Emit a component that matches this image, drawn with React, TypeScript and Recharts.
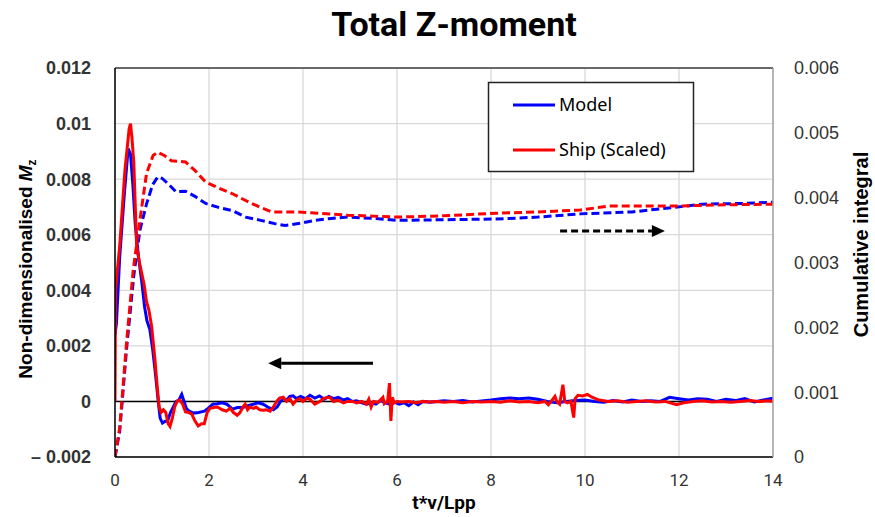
import React from 'react';
import { LineChart, Line, XAxis, YAxis, CartesianGrid, ReferenceLine } from 'recharts';

const W = 875;
const H = 517;

// ---------- data ----------
const xTicks = [0, 2, 4, 6, 8, 10, 12, 14];
const leftTicks = [-0.002, 0, 0.002, 0.004, 0.006, 0.008, 0.01, 0.012];
const rightTicks = [0, 0.001, 0.002, 0.003, 0.004, 0.005, 0.006];

const seriesNames = ['Model', 'Ship (Scaled)'];

// Non-dimensionalised Mz, model (t, value)
const modelMz: [number, number][] = [
  [0, 0.0024], [0.03, 0.0028], [0.1, 0.0052], [0.2, 0.0075], [0.28, 0.0091], [0.33, 0.0089], [0.38, 0.0078],
  [0.43, 0.0064], [0.5, 0.0052], [0.57, 0.0043], [0.63, 0.0034], [0.68, 0.0029], [0.74, 0.0026], [0.8, 0.0019],
  [0.86, 0.001], [0.92, 0.0], [0.96, -0.0006], [1.01, -0.00078], [1.06, -0.00072], [1.12, -0.0007], [1.18, -0.0004],
  [1.24, -0.0002], [1.3, 0.0], [1.36, 0.00005], [1.42, 0.00025], [1.47, 0.0], [1.52, -0.00026], [1.58, -0.00035],
  [1.67, -0.00042], [1.78, -0.0004], [1.9, -0.00035], [1.98, -0.00025], [2.08, -0.0001], [2.18, -0.00008],
  [2.28, -0.00005], [2.38, -0.0001], [2.5, -0.00028], [2.6, -0.00022], [2.72, -0.00022], [2.83, -0.00015],
  [2.94, -0.0001], [3.05, -0.00005], [3.15, -0.0001], [3.25, -0.0002], [3.37, -0.0003], [3.45, -0.0002],
  [3.52, 0.0], [3.58, 0.0001], [3.65, 0.00005], [3.72, 0.00018], [3.79, 0.0002], [3.86, 0.0001], [3.95, 0.00018],
  [4.05, 0.0001], [4.15, 0.00022], [4.25, 0.00012], [4.35, 0.0002], [4.45, 0.00008], [4.55, 0.00018], [4.65, 0.0001],
  [4.75, 0.00015], [4.86, 0.00005], [4.95, 0.0001], [5.05, 0.0], [5.14, 0.00002], [5.25, -0.00005], [5.35, -0.0001],
  [5.45, -0.00005], [5.55, -0.0001], [5.65, 0.00003], [5.75, -0.00005], [5.85, -0.0001], [5.95, -0.00003],
  [6.05, -0.0001], [6.15, -0.00005], [6.25, -0.00015], [6.35, -0.00002], [6.45, -0.00012], [6.55, 0.0],
  [6.7, -0.00003], [6.85, 0.0], [7.0, 0.00002], [7.2, 0.0], [7.4, 0.00003], [7.6, -0.00002], [7.8, 0.00002],
  [8.0, 0.00005], [8.2, 0.0001], [8.4, 0.00012], [8.6, 0.0001], [8.8, 0.00012], [9.0, 0.00008], [9.2, 0.0],
  [9.4, -0.00005], [9.6, 0.0], [9.8, 0.00003], [10.0, 0.00005], [10.2, 0.0], [10.4, -0.00003], [10.6, 0.00003],
  [10.8, -0.00002], [11.0, 0.00005], [11.2, 0.0], [11.4, 0.00002], [11.6, 0.0], [11.8, 0.00015], [12.0, 0.0001],
  [12.2, 0.00005], [12.4, 0.0001], [12.6, 0.00008], [12.8, 0.0], [13.0, 0.00008], [13.2, 0.00003], [13.4, 0.0001],
  [13.6, -0.00002], [13.8, 0.00005], [14.0, 0.00012],
];

// Non-dimensionalised Mz, ship (scaled)
const shipMz: [number, number][] = [
  [0, 0.0], [0.01, 0.004], [0.1, 0.0056], [0.21, 0.0083], [0.3, 0.0098], [0.33, 0.01], [0.36, 0.0095], [0.4, 0.0086],
  [0.46, 0.0056], [0.52, 0.005], [0.57, 0.0046], [0.62, 0.0042], [0.67, 0.0036], [0.72, 0.0033], [0.78, 0.0027],
  [0.85, 0.0015], [0.9, 0.0005], [0.94, -0.0002], [0.98, -0.0004], [1.03, -0.0003], [1.08, -0.0004], [1.13, -0.0008],
  [1.17, -0.0009], [1.22, -0.0006], [1.27, -0.0002], [1.32, 0.0], [1.38, 0.00005], [1.44, -0.0001], [1.5, -0.00038],
  [1.57, -0.0004], [1.63, -0.00045], [1.7, -0.0007], [1.77, -0.00088], [1.84, -0.0008], [1.9, -0.0008],
  [1.96, -0.0004], [2.02, -0.00025], [2.1, -0.00022], [2.18, -0.0002], [2.28, -0.0003], [2.37, -0.00035],
  [2.45, -0.00025], [2.52, -0.0004], [2.6, -0.0005], [2.66, -0.0004], [2.72, -0.0002], [2.77, -0.0001],
  [2.82, -0.0003], [2.87, -0.0002], [2.95, -0.00025], [3.0, -0.0002], [3.08, -0.0003], [3.15, -0.00032],
  [3.22, -0.0003], [3.3, -0.00035], [3.37, -0.0002], [3.44, 0.0], [3.5, 0.00012], [3.58, 0.00015], [3.65, 0.0],
  [3.72, 0.0001], [3.79, -0.0001], [3.86, 0.00005], [3.93, 0.0001], [4.0, 0.0], [4.08, 0.00012], [4.15, 0.00008],
  [4.25, -0.0001], [4.36, 0.0], [4.45, 0.00012], [4.57, 0.00015], [4.65, 0.0], [4.75, 0.00005], [4.86, -0.00005],
  [4.95, 0.0], [5.05, 0.0], [5.14, -0.00005], [5.25, 0.0], [5.35, -0.0001], [5.4, 0.00008], [5.45, -0.0002],
  [5.5, 0.0], [5.6, -0.00003], [5.7, 0.00015], [5.73, -0.00008], [5.8, 0.0], [5.84, 0.00066], [5.87, -0.0007],
  [5.9, 0.00015], [5.94, -0.00005], [6.0, 0.0], [6.1, -0.00002], [6.25, 0.0], [6.4, -0.00005], [6.55, 0.0],
  [6.7, -0.00002], [6.85, 0.0], [7.0, -0.00003], [7.2, 0.0], [7.4, -0.00005], [7.6, 0.0], [7.8, -0.00002],
  [8.0, 0.0], [8.2, -0.00003], [8.4, 0.00002], [8.6, -0.00002], [8.8, 0.0], [9.0, -0.00005], [9.15, 0.0],
  [9.22, -0.00012], [9.28, 0.0], [9.36, 0.00018], [9.4, 0.0], [9.46, -0.0001], [9.53, 0.0006], [9.57, 0.0],
  [9.63, -0.00005], [9.7, 0.0], [9.76, -0.00058], [9.79, 0.0001], [9.85, 0.00022], [9.95, 0.0002], [10.05, 0.00025],
  [10.15, 0.00015], [10.3, 0.00005], [10.5, 0.0], [10.7, 0.00002], [10.9, -0.00003], [11.1, 0.0], [11.3, 0.00002],
  [11.5, -0.00002], [11.7, 0.0], [11.95, -0.00012], [12.1, -0.00005], [12.3, 0.0], [12.5, 0.00002], [12.7, -0.00002],
  [12.9, 0.0], [13.1, -0.00003], [13.3, 0.0], [13.5, 0.00003], [13.7, 0.0], [13.9, 0.00002], [14.0, 0.0],
];

// Cumulative integral, model
const modelCum: [number, number][] = [
  [0, 0], [0.1, 0.0004], [0.25, 0.0017], [0.4, 0.0028], [0.53, 0.0035], [0.67, 0.0039], [0.8, 0.0042],
  [0.91, 0.00432], [1.0, 0.0043], [1.15, 0.0042], [1.3, 0.00409], [1.5, 0.0041], [1.7, 0.00402], [1.93, 0.00391],
  [2.2, 0.00385], [2.5, 0.0038], [2.78, 0.0037], [3.1, 0.00365], [3.4, 0.0036], [3.62, 0.00357], [3.9, 0.0036],
  [4.25, 0.00365], [4.6, 0.00368], [4.95, 0.0037], [5.5, 0.00368], [6.0, 0.00365], [7.0, 0.00366], [8.1, 0.00367],
  [9.0, 0.0037], [9.9, 0.00375], [11.0, 0.00378], [11.9, 0.00385], [12.5, 0.0039], [13.3, 0.00391], [14, 0.00393],
];

// Cumulative integral, ship (scaled)
const shipCum: [number, number][] = [
  [0, 0], [0.1, 0.00045], [0.25, 0.0018], [0.39, 0.0029], [0.53, 0.00365], [0.67, 0.00437], [0.81, 0.00465],
  [0.91, 0.0047], [1.05, 0.00465], [1.2, 0.00457], [1.5, 0.00455], [1.7, 0.00442], [1.93, 0.00424], [2.2, 0.00415],
  [2.5, 0.00406], [2.85, 0.00393], [3.1, 0.00385], [3.34, 0.00378], [3.9, 0.00378], [4.95, 0.00373], [6.0, 0.0037],
  [7.0, 0.00372], [8.1, 0.00376], [9.0, 0.00378], [9.9, 0.00381], [10.5, 0.00387], [11.9, 0.00387], [13.0, 0.00389],
  [14, 0.0039],
];

// annotation arrows (data coordinates): [fromX, toX, y]
const leftArrow = [5.49, 3.26, 0.00137];
const rightArrow = [9.47, 11.7, 0.003485];

const toRows = (pairs: [number, number][]) => pairs.map(([t, v]) => ({ t, v }));

const BLUE = '#0000ff';
const RED = '#ff0000';

const fmtLeft = (v: number) => (v < 0 ? '\u2013 ' + String(-v) : v === 0 ? '0' : String(v));
const fmtRight = (v: number) => (v === 0 ? '0' : String(v));

const makeArrow = (dashed: boolean) => (props: any) => {
  const { x1, y1, x2, y2 } = props;
  const dir = x2 > x1 ? 1 : -1;
  const head = 13;
  const half = 6;
  return (
    <g>
      <line
        x1={x1}
        y1={y1}
        x2={x2 - dir * head}
        y2={y2}
        stroke="#000"
        strokeWidth={3}
        strokeDasharray={dashed ? '7 4' : undefined}
      />
      <polygon
        points={`${x2},${y2} ${x2 - dir * head},${y2 - half} ${x2 - dir * head},${y2 + half}`}
        fill="#000"
      />
    </g>
  );
};

export default function App() {
  return (
    <div style={{ position: 'absolute', left: 0, top: 0, width: W, height: H, background: '#fff' }}>
      <LineChart width={W} height={H} margin={{ top: 68, right: 0, bottom: 0, left: 0 }}>
        <CartesianGrid yAxisId="left" stroke="#d9d9d9" strokeWidth={1.3} />
        <XAxis
          type="number"
          dataKey="t"
          domain={[0, 14]}
          ticks={xTicks}
          allowDataOverflow
          height={60}
          axisLine={{ stroke: '#000', strokeWidth: 1.5 }}
          tickLine={false}
          tickSize={0}
          tickMargin={17}
          tick={{ fill: '#333', fontSize: 17, fontFamily: 'Roboto' }}
        />
        <YAxis
          yAxisId="left"
          orientation="left"
          width={115}
          domain={[-0.002, 0.012]}
          ticks={leftTicks}
          allowDataOverflow
          tickFormatter={fmtLeft}
          axisLine={{ stroke: '#000', strokeWidth: 1.5 }}
          tickLine={false}
          tickSize={0}
          tickMargin={24}
          tick={{ fill: '#333', fontSize: 18, fontWeight: 'bold', fontFamily: 'Liberation Sans' }}
        />
        <YAxis
          yAxisId="right"
          orientation="right"
          width={102}
          domain={[0, 0.006]}
          ticks={rightTicks}
          allowDataOverflow
          tickFormatter={fmtRight}
          axisLine={{ stroke: '#a6a6a6', strokeWidth: 1.5 }}
          tickLine={false}
          tickSize={0}
          tickMargin={21}
          tick={{ fill: '#333', fontSize: 18, fontFamily: 'Liberation Sans' }}
        />
        <ReferenceLine yAxisId="left" y={0.012} stroke="#404040" strokeWidth={1.5} />
        <ReferenceLine yAxisId="left" y={0} stroke="#000" strokeWidth={1.5} />
        <Line
          yAxisId="right"
          data={toRows(modelCum)}
          dataKey="v"
          name={seriesNames[0] + ' cumulative'}
          type="linear"
          stroke={BLUE}
          strokeWidth={3}
          strokeDasharray="8 4"
          dot={false}
          isAnimationActive={false}
        />
        <Line
          yAxisId="right"
          data={toRows(shipCum)}
          dataKey="v"
          name={seriesNames[1] + ' cumulative'}
          type="linear"
          stroke={RED}
          strokeWidth={3}
          strokeDasharray="8 4"
          dot={false}
          isAnimationActive={false}
        />
        <Line
          yAxisId="left"
          data={toRows(modelMz)}
          dataKey="v"
          name={seriesNames[0]}
          type="linear"
          stroke={BLUE}
          strokeWidth={3}
          dot={false}
          isAnimationActive={false}
        />
        <Line
          yAxisId="left"
          data={toRows(shipMz)}
          dataKey="v"
          name={seriesNames[1]}
          type="linear"
          stroke={RED}
          strokeWidth={3}
          dot={false}
          isAnimationActive={false}
        />
        <ReferenceLine
          yAxisId="left"
          segment={[{ x: leftArrow[0], y: leftArrow[2] }, { x: leftArrow[1], y: leftArrow[2] }]}
          shape={makeArrow(false)}
        />
        <ReferenceLine
          yAxisId="right"
          segment={[{ x: rightArrow[0], y: rightArrow[2] }, { x: rightArrow[1], y: rightArrow[2] }]}
          shape={makeArrow(true)}
        />
      </LineChart>
      <svg
        width={W}
        height={H}
        style={{ position: 'absolute', left: 0, top: 0, pointerEvents: 'none' }}
      >
        <text x={454} y={36} textAnchor="middle" fontFamily="Roboto" fontWeight="bold" fontSize={34} fill="#000">
          Total Z-moment
        </text>
        <text x={444} y={509} textAnchor="middle" fontFamily="Roboto" fontWeight="bold" fontSize={19} fill="#000">
          t*v/Lpp
        </text>
        <text
          transform="translate(32, 269) rotate(-90)"
          textAnchor="middle"
          fontFamily="Liberation Sans"
          fontWeight="bold"
          fontSize={19}
          fill="#000"
        >
          Non-dimensionalised <tspan fontStyle="italic">M</tspan>
          <tspan fontSize={12} dy={4}>z</tspan>
        </text>
        <text
          transform="translate(868, 244.5) rotate(-90)"
          textAnchor="middle"
          fontFamily="Liberation Sans"
          fontWeight="bold"
          fontSize={20}
          fill="#000"
        >
          Cumulative integral
        </text>
        <rect x={488.5} y={82.5} width={205} height={89} fill="#fff" stroke="#222" strokeWidth={1.5} />
        <line x1={513} y1={105} x2={555} y2={105} stroke={BLUE} strokeWidth={3} />
        <text x={559} y={111} fontFamily="Noto Sans" fontSize={18} fill="#000">
          {seriesNames[0]}
        </text>
        <line x1={513} y1={150} x2={555} y2={150} stroke={RED} strokeWidth={3} />
        <text x={559} y={156} fontFamily="Noto Sans" fontSize={18} fill="#000">
          {seriesNames[1]}
        </text>
      </svg>
    </div>
  );
}
